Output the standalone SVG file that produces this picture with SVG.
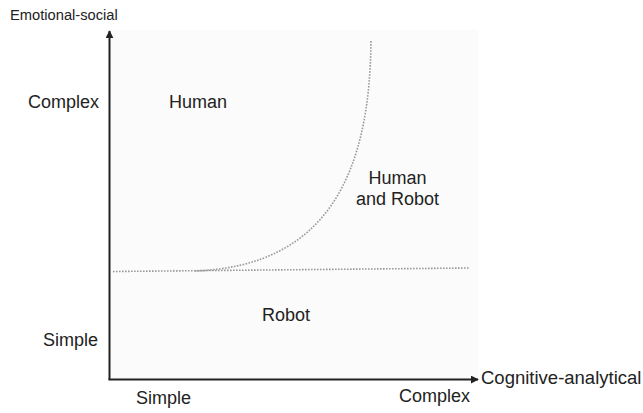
<svg xmlns="http://www.w3.org/2000/svg" width="643" height="413" viewBox="0 0 643 413">
<defs>
<marker id="arr" viewBox="0 0 10 10" refX="9" refY="5" markerWidth="8" markerHeight="8" markerUnits="userSpaceOnUse" orient="auto">
<path d="M0,0 L10,5 L0,10 z" fill="#222"/>
</marker>
<style>
text{font-family:"Liberation Sans",Arial,sans-serif;font-size:18px;fill:#222}
.ax{stroke:#222;stroke-width:2;fill:none}
.dot{stroke:#999;stroke-width:1.6;stroke-dasharray:1.6 1.4;fill:none}
</style>
</defs>
<rect width="643" height="413" fill="#fff"/>
<rect x="110" y="30" width="368" height="349" fill="#fbfbfb"/>
<g id="connectors">
<line class="ax" x1="109.5" y1="380" x2="109.5" y2="31" marker-end="url(#arr)"/>
<line class="ax" x1="108.5" y1="379.5" x2="478" y2="379.5" marker-end="url(#arr)"/>
<path class="dot" d="M113,271.5 L470,268"/>
<path class="dot" d="M195,271 C330,266 370,170 371,40"/>
</g>
<g id="axis-labels">
<text x="10" y="20" style="font-size:14.7px">Emotional-social</text>
<text x="28" y="108">Complex</text>
<text x="43" y="346">Simple</text>
<text x="136" y="404">Simple</text>
<text x="399" y="402">Complex</text>
<text x="481" y="384" style="font-size:18.5px">Cognitive-analytical</text>
</g>
<g id="region-human"><text x="169" y="108">Human</text></g>
<g id="region-both"><text x="397.5" y="184" text-anchor="middle">Human</text><text x="397.5" y="205" text-anchor="middle">and Robot</text></g>
<g id="region-robot"><text x="262" y="321">Robot</text></g>
</svg>
